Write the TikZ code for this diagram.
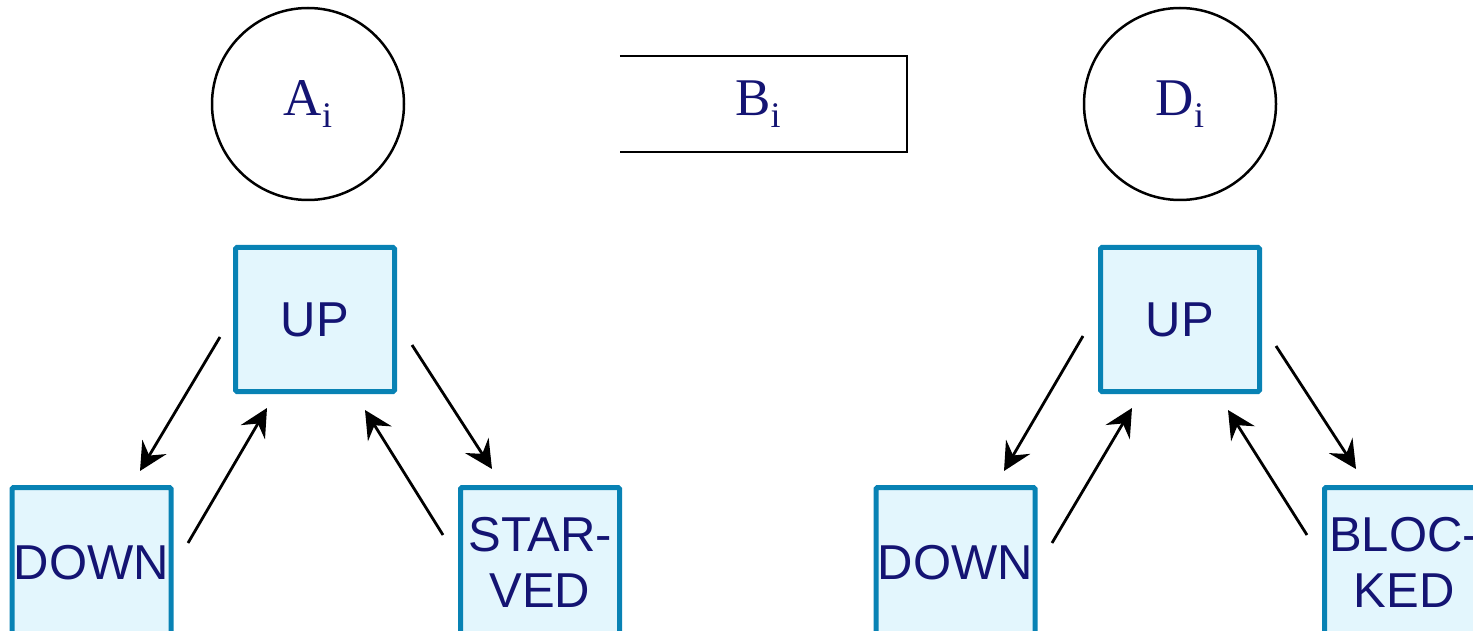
\documentclass[tikz,border=0pt]{standalone}
\usepackage{fontspec}
\setmainfont{Liberation Serif}
\setsansfont{Liberation Sans}
\usetikzlibrary{arrows.meta}

\definecolor{stateline}{RGB}{8,130,180}
\definecolor{statefill}{RGB}{227,246,253}
\definecolor{labelnavy}{RGB}{20,20,115}

% machine / buffer name with a lowered subscript
\newcommand{\sublbl}[2]{#1\raisebox{-12pt}{\fontsize{36}{36}\selectfont #2}}

\tikzset{
  statebox/.style={draw=stateline, fill=statefill, line width=5pt,
    minimum width=159pt, minimum height=144pt, inner sep=0pt,
    rounded corners=1.5pt,
    text=labelnavy, align=center,
    font=\sffamily\fontsize{49}{56}\selectfont},
  lowbox/.style={statebox, minimum height=150pt},
  machine/.style={draw=black, circle, line width=2.5pt, minimum size=192pt,
    inner sep=0pt, text=labelnavy, font=\fontsize{53}{56}\selectfont},
  bufferlabel/.style={text=labelnavy, inner sep=0pt, font=\fontsize{53}{56}\selectfont},
  trans/.style={draw=black, line width=2.8pt,
    -{Stealth[length=28pt, width=28pt, inset=10pt]}},
}

\begin{document}
\begin{tikzpicture}[x=1pt, y=-1pt]
\useasboundingbox (0,0) rectangle (1473,631);
\clip (0,0) rectangle (1473,631);

% ---- machine A, buffer B, machine D ----
\node[machine] (A) at (308,104) {\sublbl{A}{i}};
\node[machine] (D) at (1180,104) {\sublbl{D}{i}};

\node[minimum width=287pt, minimum height=96pt, inner sep=0pt] (B) at (763.5,104) {};
\node[bufferlabel] (Blbl) at (758,104) {\sublbl{B}{i}};
\draw[line width=2.5pt] (B.north west) -- (B.north east) -- (B.south east) -- (B.south west);

% ---- state model of machine A ----
\node[statebox] (upA) at (315,319.5) {UP};
\node[lowbox] (downA) at (91.5,562.5) {DOWN};
\node[lowbox] (starved) at (540,562.5) {STAR-\\VED};

\coordinate (a1s) at (220,337);  \coordinate (a1e) at (140,471);
\coordinate (a2s) at (188,543);  \coordinate (a2e) at (267,408);
\coordinate (a3s) at (443,535);  \coordinate (a3e) at (365,410);
\coordinate (a4s) at (412,345);  \coordinate (a4e) at (492,469);
\draw[trans] (a1s) -- (a1e);
\draw[trans] (a2s) -- (a2e);
\draw[trans] (a3s) -- (a3e);
\draw[trans] (a4s) -- (a4e);

% ---- state model of machine D ----
\node[statebox] (upD) at (1180,319.5) {UP};
\node[lowbox] (downD) at (955.5,562.5) {DOWN};
\node[lowbox] (blocked) at (1404,562.5) {BLOC-\\KED};

\coordinate (d1s) at (1083,336); \coordinate (d1e) at (1004,471);
\coordinate (d2s) at (1052,543); \coordinate (d2e) at (1132,408);
\coordinate (d3s) at (1307,535); \coordinate (d3e) at (1228,410);
\coordinate (d4s) at (1276,346); \coordinate (d4e) at (1356,469);
\draw[trans] (d1s) -- (d1e);
\draw[trans] (d2s) -- (d2e);
\draw[trans] (d3s) -- (d3e);
\draw[trans] (d4s) -- (d4e);
\end{tikzpicture}
\end{document}
